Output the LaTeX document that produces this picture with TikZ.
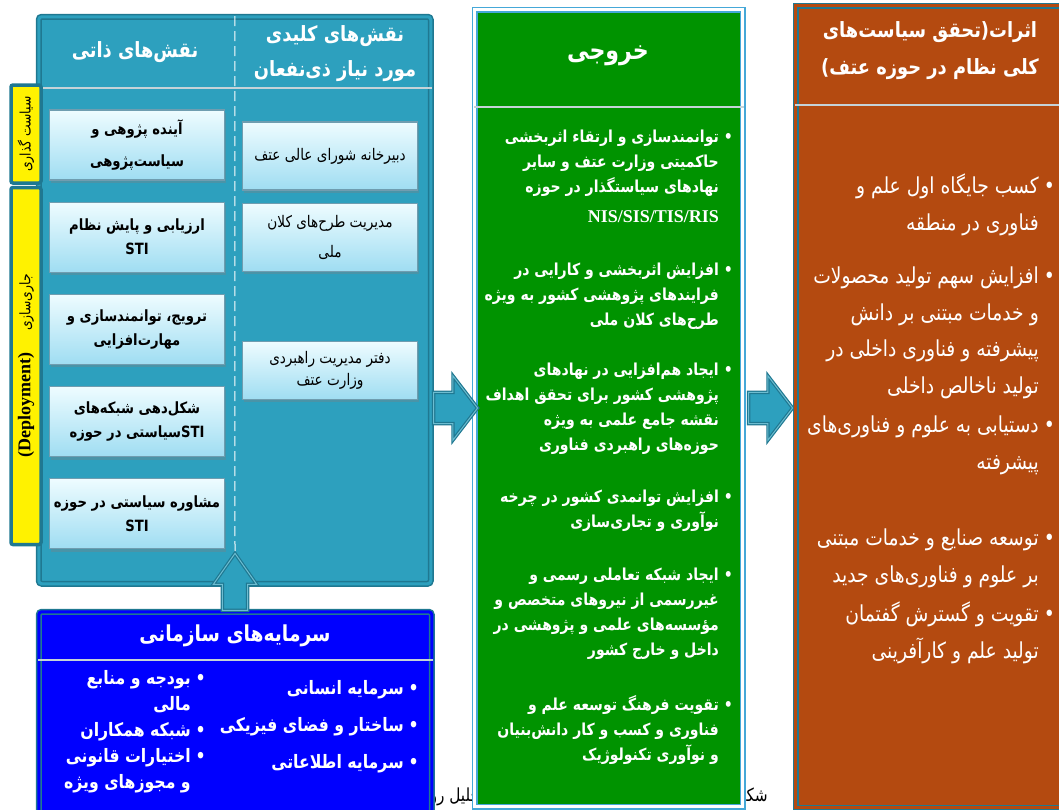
\documentclass[tikz,border=0pt]{standalone}
\usepackage{fontspec}
\newfontfamily\fafont[Script=Arabic,FakeStretch=0.85]{DejaVu Sans}
\newfontfamily\tmsfont{Liberation Serif}
\TeXXeTstate=1
\usetikzlibrary{positioning,shapes.arrows,shadows}

\definecolor{tealmid}{HTML}{2DA0BE}
\definecolor{tealdark}{HTML}{1F7891}
\definecolor{btntop}{HTML}{EEFCFF}
\definecolor{btnbot}{HTML}{9FDDF2}
\definecolor{btnline}{HTML}{6F9DB0}
\definecolor{outgreen}{HTML}{009300}
\definecolor{outline}{HTML}{45A8D8}
\definecolor{rust}{HTML}{B44A10}
\definecolor{sepline}{HTML}{C5D3D8}

\newcommand\fa[1]{\beginR #1\endR}
\newcommand\lat[1]{\beginL #1\endL}
\newcommand\bitem[1]{\fa{•\hspace{5pt}#1}}
\newcommand\bcont[1]{\fa{\phantom{•}\hspace*{5pt}#1}}

\tikzset{
  column/.style={anchor=north west, inner sep=0pt, line width=1.5pt, double distance=3pt},
  sep/.style={draw=sepline, line width=1.2pt},
  btn/.style={draw=btnline, line width=1.2pt, top color=btntop, bottom color=btnbot,
    minimum width=175pt, align=center, inner sep=2pt,
    drop shadow={shadow xshift=1pt, shadow yshift=-3pt, opacity=.35}},
  ownbtn/.style={btn, minimum height=70pt, font=\fafont\bfseries\fontsize{15.5}{24}\selectfont},
  keybtn/.style={btn, font=\fafont\fontsize{16}{22}\selectfont},
  hdr/.style={text=white, align=center, font=\fafont\bfseries\fontsize{21}{35}\selectfont},
  ttl/.style={text=white, align=center, font=\fafont\bfseries\fontsize{22}{37}\selectfont},
  tab/.style={rotate=90, fill=yellow, draw=tealdark, line width=3.5pt, rounded corners=2pt,
    minimum height=30pt, inner sep=0pt, font=\fafont\fontsize{14.5}{16}\selectfont},
  fatarrow/.style={single arrow, fill=tealmid, draw=tealdark, double=tealmid!70!white,
    line width=1.2pt, double distance=1pt, inner xsep=0pt},
  bitems/.style={anchor=north east, align=right, inner sep=0pt, text=white},
  captext/.style={inner sep=0pt, font=\fafont\fontsize{18}{20}\selectfont}
}

\begin{document}
\begin{tikzpicture}[x=1pt, y=-1pt, node distance=21pt]
\useasboundingbox (0,0) rectangle (1059,809);

\node[captext, anchor=base east] (capR) at (768,801) {\fa{شکل}};
\node[captext, anchor=base east] (capL) at (485,801) {\fa{تحلیل رو}};

\node[column, draw=tealdark, double=tealmid, fill=tealmid, rounded corners=3pt,
  minimum width=392pt, minimum height=567pt] (roles) at (38,16) {};
\draw[sep] ([yshift=-72pt]roles.north west) -- ([yshift=-72pt]roles.north east);
\node[hdr] (hdrOwn) at (135,52) {\fa{نقش‌های ذاتی}};
\node[hdr] (hdrKey) at (335,54) {\fa{نقش‌های کلیدی}\\\fa{مورد نیاز ذی‌نفعان}};

\node[ownbtn] (own1) at (137,145) {\fa{آینده پژوهی و}\\[8pt]\fa{سیاست‌پژوهی}};
\node[ownbtn, below=of own1] (own2) {\fa{ارزیابی و پایش نظام}\\STI};
\node[ownbtn, below=of own2] (own3) {\fa{ترویج، توانمندسازی و}\\\fa{مهارت‌افزایی}};
\node[ownbtn, below=of own3] (own4) {\fa{شکل‌دهی شبکه‌های}\\\fa{\lat{STI}سیاستی در حوزه}};
\node[ownbtn, below=of own4] (own5) {\fa{مشاوره سیاستی در حوزه}\\STI};

\node[keybtn, minimum height=68pt] (key1) at (330,156) {\fa{دبیرخانه شورای عالی عتف}};
\node[keybtn, minimum height=68pt, below=12pt of key1] (key2) {\fa{مدیریت طرح‌های کلان}\\[8pt]\fa{ملی}};
\node[keybtn, minimum height=58pt, below=69pt of key2] (key3) {\fa{دفتر مدیریت راهبردی}\\\fa{وزارت عتف}};

\node[tab, minimum width=98pt] (tabPol) at (26,134) {\fa{سیاست گذاری}};
\node[tab, minimum width=357pt] (tabDep) at (26,366) {\fa{جاری‌سازی\hspace{22pt}\lat{\tmsfont\bfseries\fontsize{18}{18}\selectfont (Deployment)}}};

\node[column, draw=tealdark, double=blue, fill=blue, rounded corners=3pt,
  minimum width=393pt, minimum height=210pt] (assets) at (38,611) {};
\draw[sep] ([yshift=-49pt]assets.north west) -- ([yshift=-49pt]assets.north east);
\node[ttl] (assetsT) at (235,636) {\fa{سرمایه‌های سازمانی}};
\node[bitems, font=\fafont\bfseries\fontsize{18.5}{37}\selectfont] (assetsR) at (419,680)
  {\bitem{سرمایه انسانی}\\\bitem{ساختار و فضای فیزیکی}\\\bitem{سرمایه اطلاعاتی}};
\node[bitems, font=\fafont\bfseries\fontsize{18.5}{26}\selectfont] (assetsL) at (206,670)
  {\bitem{بودجه و منابع}\\\bcont{مالی}\\\bitem{شبکه همکاران}\\\bitem{اختیارات قانونی}\\\bcont{و مجوزهای ویژه}};

\node[fatarrow, rotate=90, anchor=tail, minimum height=57pt, inner ysep=12pt,
  single arrow head extend=9pt, single arrow tip angle=70] (arrUp) at (235,611) {};
\draw[white, line width=1pt, dash pattern=on 10pt off 5pt] (roles.north) -- (arrUp.tip);

\node[column, draw=outline, fill=outgreen, minimum width=268pt, minimum height=797pt] (out) at (474,9) {};
\draw[sep] ([yshift=-98pt]out.north west) -- ([yshift=-98pt]out.north east);
\node[ttl, font=\fafont\bfseries\fontsize{26}{30}\selectfont] (outT) at (608,56) {\fa{خروجی}};
\begin{scope}[every node/.style={bitems, font=\fafont\bfseries\fontsize{16.5}{25}\selectfont}]
\node (out1) at (733,130) {\bitem{توانمندسازی و ارتقاء اثربخشی}\\\bcont{حاکمیتی وزارت عتف و سایر}\\\bcont{نهادهای سیاستگذار در حوزه}\\[5pt]\bcont{\lat{\tmsfont\bfseries\fontsize{18}{30}\selectfont NIS/SIS/TIS/RIS}}};
\node (out2) at (733,263) {\bitem{افزایش اثربخشی و کارایی در}\\\bcont{فرایندهای پژوهشی کشور به ویژه}\\\bcont{طرح‌های کلان ملی}};
\node (out3) at (733,363) {\bitem{ایجاد هم‌افزایی در نهادهای}\\\bcont{پژوهشی کشور برای تحقق اهداف}\\\bcont{نقشه جامع علمی به ویژه}\\\bcont{حوزه‌های راهبردی فناوری}};
\node (out4) at (733,490) {\bitem{افزایش توانمدی کشور در چرخه}\\\bcont{نوآوری و تجاری‌سازی}};
\node (out5) at (733,568) {\bitem{ایجاد شبکه تعاملی رسمی و}\\\bcont{غیررسمی از نیروهای متخصص و}\\\bcont{مؤسسه‌های علمی و پژوهشی در}\\\bcont{داخل و خارج کشور}};
\node (out6) at (733,695) {\bitem{تقویت فرهنگ توسعه علم و}\\\bcont{فناوری و کسب و کار دانش‌بنیان}\\\bcont{و نوآوری تکنولوژیک}};
\end{scope}

\node[fatarrow, anchor=tail, minimum height=44pt, inner ysep=15pt,
  single arrow head extend=16.5pt, single arrow tip angle=105] (arrA) at (433,408) {};
\node[fatarrow, anchor=tail, minimum height=44pt, inner ysep=15pt,
  single arrow head extend=16.5pt, single arrow tip angle=105] (arrB) at (748,408) {};

\node[column, draw=tealdark, double=rust, fill=rust, minimum width=272pt, minimum height=802pt] (impact) at (795,5) {};
\draw[sep] ([yshift=-100pt]impact.north west) -- ([yshift=-100pt]impact.north east);
\node[ttl, font=\fafont\bfseries\fontsize{21}{37}\selectfont] (impactT) at (930,51) {\fa{اثرات(تحقق سیاست‌های}\\\fa{کلی نظام در حوزه عتف)}};
\begin{scope}[every node/.style={bitems, font=\fafont\fontsize{22}{36.5}\selectfont}]
\node (imp1) at (1055,174) {\bitem{کسب جایگاه اول علم و}\\\bcont{فناوری در منطقه}};
\node (imp2) at (1055,267) {\bitem{افزایش سهم تولید محصولات}\\\bcont{و خدمات مبتنی بر دانش}\\\bcont{پیشرفته و فناوری داخلی در}\\\bcont{تولید ناخالص داخلی}};
\node (imp3) at (1055,416) {\bitem{دستیابی به علوم و فناوری‌های}\\\bcont{پیشرفته}};
\node (imp4) at (1055,529) {\bitem{توسعه صنایع و خدمات مبتنی}\\\bcont{بر علوم و فناوری‌های جدید}};
\node (imp5) at (1055,602) {\bitem{تقویت و گسترش گفتمان}\\\bcont{تولید علم و کارآفرینی}};
\end{scope}
\end{tikzpicture}
\end{document}
